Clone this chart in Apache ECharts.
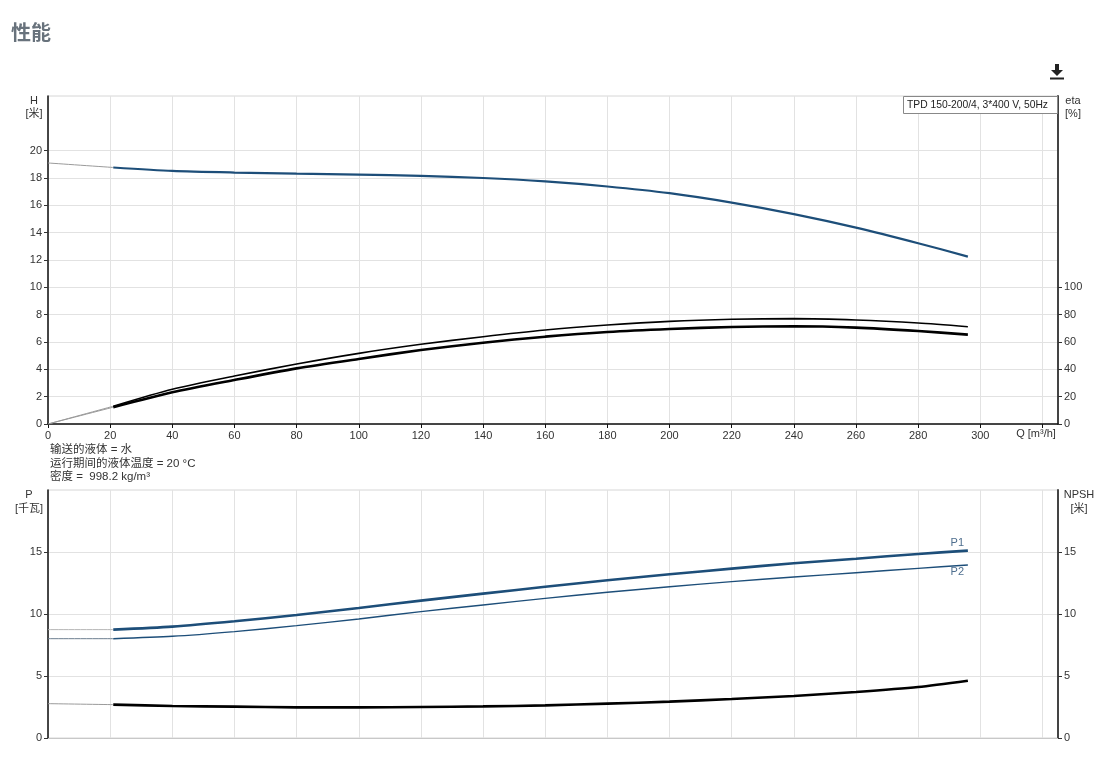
<!DOCTYPE html>
<html><head><meta charset="utf-8">
<script src="https://cdn.jsdelivr.net/npm/echarts@6/dist/echarts.min.js"></script>
<style>html,body{margin:0;padding:0;background:#fff}#c{width:1109px;height:765px}</style>
</head><body><div id="c"></div>
<script>
// ---- data ----
const qMain = [21, 40, 60, 80, 100, 120, 140, 160, 180, 200, 220, 240, 260, 280, 296];
const qExt = [0, 21];
const headMain = [18.77, 18.52, 18.40, 18.32, 18.25, 18.15, 18.00, 17.75, 17.38, 16.89, 16.20, 15.36, 14.37, 13.23, 12.25];
const headExt = [19.1, 18.77];
const etaUpperMain = [13.0, 25.4, 35.1, 43.9, 51.7, 58.3, 63.9, 68.8, 72.4, 75.1, 76.6, 77.1, 76.1, 73.9, 71.2];
const etaUpperExt = [0, 13.0];
const etaLowerMain = [12.3, 23.2, 32.2, 40.7, 47.6, 54.1, 59.5, 63.9, 67.3, 69.5, 71.0, 71.5, 70.5, 68.0, 65.4];
const etaLowerExt = [0, 12.3];
const p1Main = [8.74, 8.98, 9.41, 9.92, 10.48, 11.08, 11.64, 12.20, 12.72, 13.20, 13.66, 14.09, 14.46, 14.84, 15.11];
const p1Ext = [8.74, 8.74];
const p2Main = [8.01, 8.20, 8.58, 9.06, 9.60, 10.19, 10.73, 11.26, 11.75, 12.20, 12.61, 12.98, 13.33, 13.68, 13.95];
const p2Ext = [8.01, 8.01];
const npshMain = [2.69, 2.58, 2.53, 2.47, 2.47, 2.50, 2.55, 2.63, 2.77, 2.93, 3.15, 3.39, 3.71, 4.11, 4.62];
const npshExt = [2.77, 2.69];
const hTicks = [0, 2, 4, 6, 8, 10, 12, 14, 16, 18, 20];
const etaTicks = [0, 20, 40, 60, 80, 100];
const pTicks = [0, 5, 10, 15];
const qTicks = [0, 20, 40, 60, 80, 100, 120, 140, 160, 180, 200, 220, 240, 260, 280, 300];

const pairs = (xs, ys) => xs.map((x, i) => [x, ys[i]]);
const FONT = '"Liberation Sans", Arial, "Noto Sans CJK SC", sans-serif';
const BLUE = '#1d4e79';
const EXT = '#9a9a9a';

const chart = echarts.init(document.getElementById('c'), null, {renderer: 'canvas'});

const line = (name, data, xi, yi, color, width, z) => ({
  name, type: 'line', xAxisIndex: xi, yAxisIndex: yi, data,
  smooth: 0.25, symbol: 'none', silent: true, z: z || 3,
  lineStyle: {color, width}
});

const xCommon = {
  type: 'value', min: 0, max: 325, interval: 20,
  splitLine: {show: true, lineStyle: {color: '#e2e2e2', width: 1}}
};

chart.setOption({
  animation: false,
  textStyle: {fontFamily: FONT},
  grid: [
    {left: 48, top: 96, width: 1010, height: 328, show: true, borderColor: '#d6d6d6', borderWidth: 1, backgroundColor: 'transparent'},
    {left: 48, top: 490, width: 1010, height: 248, show: true, borderColor: '#d6d6d6', borderWidth: 1, backgroundColor: 'transparent'}
  ],
  xAxis: [
    Object.assign({}, xCommon, {
      gridIndex: 0,
      axisLine: {show: true, lineStyle: {color: '#111', width: 1.5}},
      axisTick: {show: true, length: 4, lineStyle: {color: '#111'}, customValues: qTicks.concat([320])},
      axisLabel: {show: true, color: '#333', fontSize: 11, margin: 6, customValues: qTicks, fontFamily: FONT}
    }),
    Object.assign({}, xCommon, {
      gridIndex: 1,
      axisLine: {show: true, lineStyle: {color: '#c8c8c8', width: 1}},
      axisTick: {show: false},
      axisLabel: {show: false}
    })
  ],
  yAxis: [
    {
      type: 'value', gridIndex: 0, position: 'left', min: 0, max: 24, interval: 2,
      axisLine: {show: true, lineStyle: {color: '#111', width: 1.5}},
      axisTick: {show: true, length: 4, lineStyle: {color: '#333'}, customValues: hTicks},
      axisLabel: {color: '#333', fontSize: 11, margin: 6, customValues: hTicks, fontFamily: FONT},
      splitLine: {show: true, lineStyle: {color: '#e2e2e2'}}
    },
    {
      type: 'value', gridIndex: 0, position: 'right', min: 0, max: 240, interval: 20,
      axisLine: {show: true, lineStyle: {color: '#444', width: 2}},
      axisTick: {show: true, length: 4, lineStyle: {color: '#333'}, customValues: etaTicks},
      axisLabel: {color: '#333', fontSize: 11, margin: 6, customValues: etaTicks, fontFamily: FONT},
      splitLine: {show: false}
    },
    {
      type: 'value', gridIndex: 1, position: 'left', min: 0, max: 20, interval: 5,
      axisLine: {show: true, lineStyle: {color: '#111', width: 1.5}},
      axisTick: {show: true, length: 4, lineStyle: {color: '#333'}, customValues: pTicks},
      axisLabel: {color: '#333', fontSize: 11, margin: 6, customValues: pTicks, fontFamily: FONT},
      splitLine: {show: true, lineStyle: {color: '#e2e2e2'}}
    },
    {
      type: 'value', gridIndex: 1, position: 'right', min: 0, max: 20, interval: 5,
      axisLine: {show: true, lineStyle: {color: '#444', width: 2}},
      axisTick: {show: true, length: 4, lineStyle: {color: '#333'}, customValues: pTicks},
      axisLabel: {color: '#333', fontSize: 11, margin: 6, customValues: pTicks, fontFamily: FONT},
      splitLine: {show: false}
    }
  ],
  series: [
    line('H-ext', pairs(qExt, headExt), 0, 0, EXT, 1),
    line('H', pairs(qMain, headMain), 0, 0, BLUE, 2.2, 4),
    line('eta1-ext', pairs(qExt, etaUpperExt), 0, 1, EXT, 1),
    line('eta2-ext', pairs(qExt, etaLowerExt), 0, 1, EXT, 1),
    line('eta1', pairs(qMain, etaUpperMain), 0, 1, '#000', 1.6, 4),
    line('eta2', pairs(qMain, etaLowerMain), 0, 1, '#000', 2.6, 4),
    line('P1-ext', pairs(qExt, p1Ext), 1, 2, '#b5b5b5', 1),
    line('P2-ext', pairs(qExt, p2Ext), 1, 2, '#6d7f90', 1),
    line('NPSH-ext', pairs(qExt, npshExt), 1, 3, EXT, 1),
    line('P1', pairs(qMain, p1Main), 1, 2, BLUE, 2.6, 4),
    line('P2', pairs(qMain, p2Main), 1, 2, BLUE, 1.4, 4),
    line('NPSH', pairs(qMain, npshMain), 1, 3, '#000', 2.6, 4)
  ],
  graphic: [
    {type: 'text', left: 11, top: 22, style: {text: '性能', fontSize: 20, fontWeight: 'bold', fill: '#68727c', fontFamily: '"Noto Sans CJK SC", sans-serif'}},
    // download icon
    {type: 'rect', shape: {x: 1055, y: 64, width: 4, height: 7}, style: {fill: '#222'}},
    {type: 'polygon', shape: {points: [[1051, 70], [1063, 70], [1057, 76]]}, style: {fill: '#222'}},
    {type: 'rect', shape: {x: 1050, y: 77.5, width: 14, height: 2}, style: {fill: '#222'}},
    // legend box
    {type: 'rect', shape: {x: 903.5, y: 96.5, width: 154, height: 17}, style: {fill: '#fff', stroke: '#888', lineWidth: 1}, z: 10},
    {type: 'text', x: 907, y: 105, z: 11, style: {text: 'TPD 150-200/4, 3*400 V, 50Hz', fontSize: 10.3, fill: '#222', textVerticalAlign: 'middle', fontFamily: FONT}},
    // axis titles
    {type: 'text', x: 34, y: 101, style: {text: 'H', fontSize: 11, fill: '#333', textAlign: 'center', textVerticalAlign: 'middle', fontFamily: FONT}},
    {type: 'text', x: 34, y: 113.5, style: {text: '[米]', fontSize: 11, fill: '#333', textAlign: 'center', textVerticalAlign: 'middle', fontFamily: FONT}},
    {type: 'text', x: 1073, y: 101, style: {text: 'eta', fontSize: 11, fill: '#333', textAlign: 'center', textVerticalAlign: 'middle', fontFamily: FONT}},
    {type: 'text', x: 1073, y: 113.5, style: {text: '[%]', fontSize: 11, fill: '#333', textAlign: 'center', textVerticalAlign: 'middle', fontFamily: FONT}},
    {type: 'text', x: 1036, y: 434, style: {text: 'Q [m³/h]', fontSize: 11, fill: '#333', textAlign: 'center', textVerticalAlign: 'middle', fontFamily: FONT}},
    {type: 'text', x: 29, y: 495, style: {text: 'P', fontSize: 11, fill: '#333', textAlign: 'center', textVerticalAlign: 'middle', fontFamily: FONT}},
    {type: 'text', x: 29, y: 508.5, style: {text: '[千瓦]', fontSize: 11, fill: '#333', textAlign: 'center', textVerticalAlign: 'middle', fontFamily: FONT}},
    {type: 'text', x: 1079, y: 495, style: {text: 'NPSH', fontSize: 11, fill: '#333', textAlign: 'center', textVerticalAlign: 'middle', fontFamily: FONT}},
    {type: 'text', x: 1079, y: 508.5, style: {text: '[米]', fontSize: 11, fill: '#333', textAlign: 'center', textVerticalAlign: 'middle', fontFamily: FONT}},
    // notes
    {type: 'text', x: 50, y: 450, style: {text: '输送的液体 = 水', fontSize: 11.5, fill: '#333', textVerticalAlign: 'middle', fontFamily: FONT}},
    {type: 'text', x: 50, y: 463.5, style: {text: '运行期间的液体温度 = 20 °C', fontSize: 11.5, fill: '#333', textVerticalAlign: 'middle', fontFamily: FONT}},
    {type: 'text', x: 50, y: 477, style: {text: '密度 =  998.2 kg/m³', fontSize: 11.5, fill: '#333', textVerticalAlign: 'middle', fontFamily: FONT}},
    // curve labels
    {type: 'text', x: 964, y: 543, style: {text: 'P1', fontSize: 11, fill: '#4f6f8f', textAlign: 'right', textVerticalAlign: 'middle', fontFamily: FONT}},
    {type: 'text', x: 964, y: 572, style: {text: 'P2', fontSize: 11, fill: '#4f6f8f', textAlign: 'right', textVerticalAlign: 'middle', fontFamily: FONT}}
  ]
});
</script>
</body></html>
